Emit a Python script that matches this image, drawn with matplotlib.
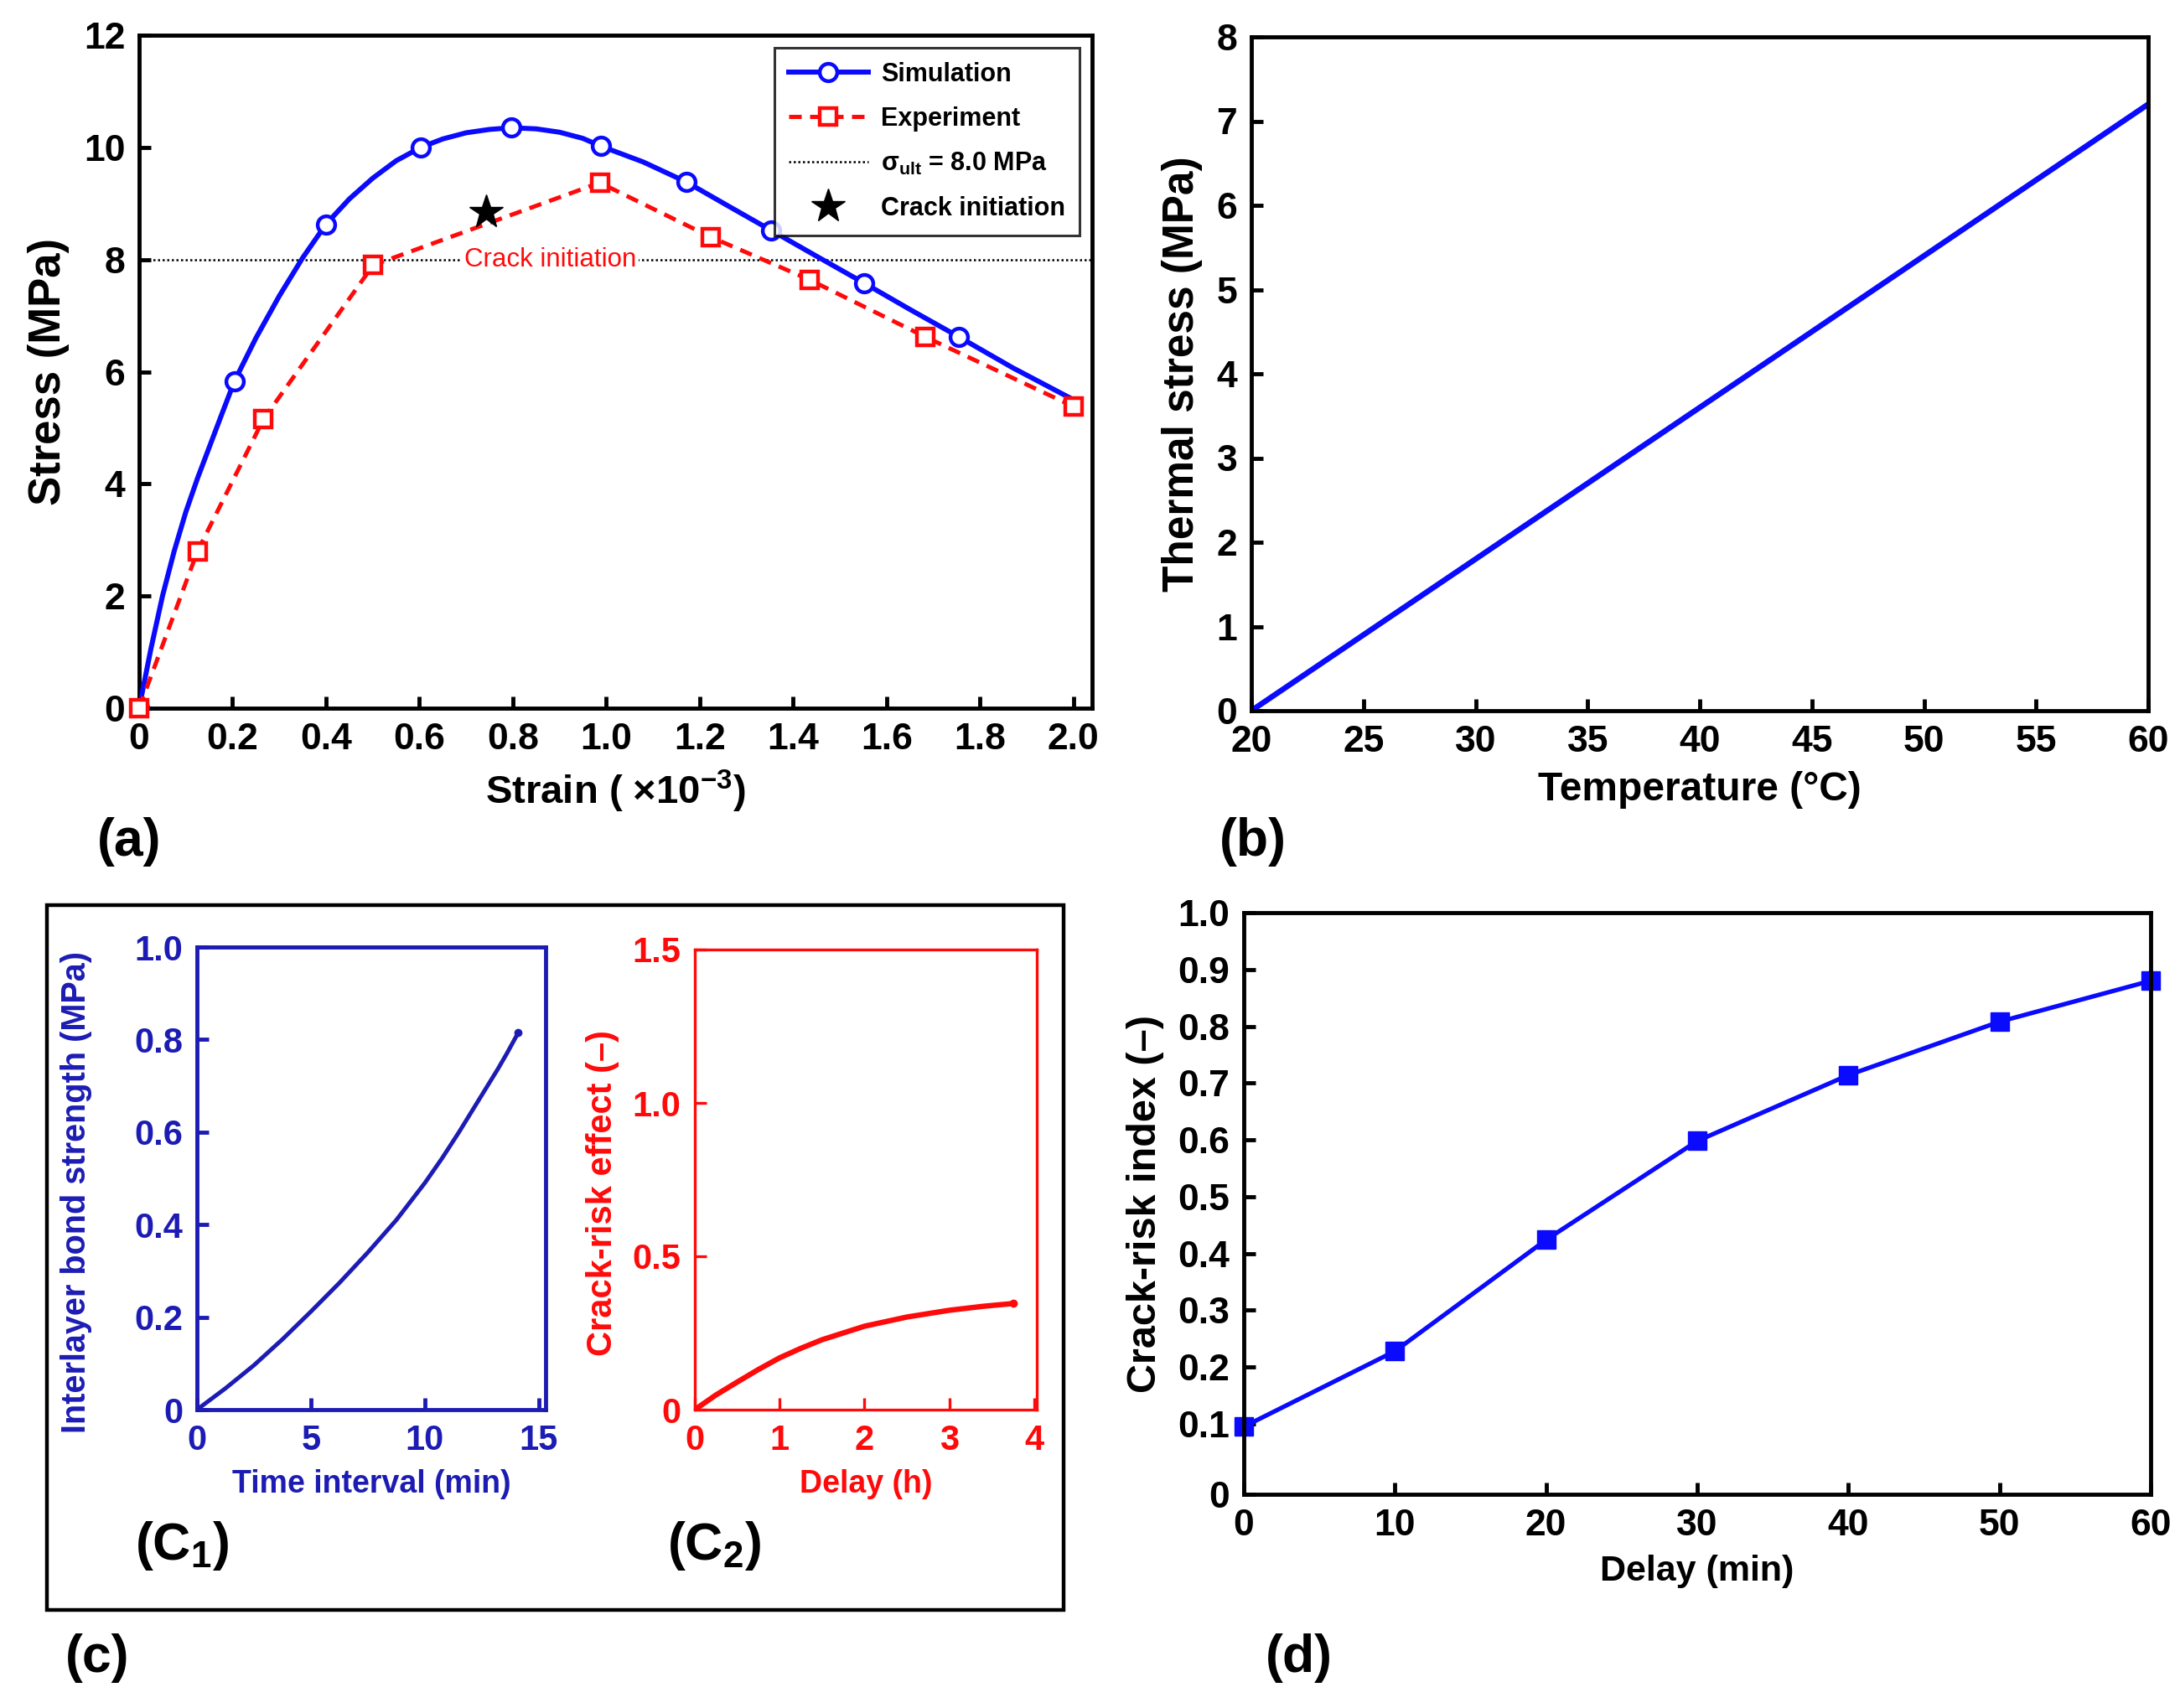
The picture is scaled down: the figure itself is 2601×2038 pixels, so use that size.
import numpy as np
import matplotlib
matplotlib.use('Agg')
from matplotlib import pyplot as plt
from matplotlib.patches import Rectangle

plt.rcParams['font.family'] = ['Liberation Sans', 'DejaVu Sans']
plt.rcParams['font.weight'] = 'bold'
plt.rcParams['axes.labelweight'] = 'bold'
plt.rcParams['mathtext.fontset'] = 'custom'
plt.rcParams['mathtext.rm'] = 'Liberation Sans:bold'
plt.rcParams['mathtext.bf'] = 'Liberation Sans:bold'
plt.rcParams['mathtext.it'] = 'Liberation Sans:bold'

# ---- data ----
# (a) stress-strain
sim_strain = [0, 0.025, 0.05, 0.075, 0.1, 0.125, 0.15, 0.175, 0.204, 0.25, 0.3, 0.35,
              0.4, 0.45, 0.5, 0.55, 0.603, 0.65, 0.7, 0.75, 0.797, 0.85, 0.9, 0.95,
              0.989, 1.079, 1.172, 1.26, 1.353, 1.45, 1.552, 1.65, 1.755, 1.87, 2.0]
sim_stress = [0, 1.05, 2.0, 2.8, 3.5, 4.1, 4.65, 5.2, 5.83, 6.6, 7.35, 8.03,
              8.63, 9.08, 9.45, 9.76, 10.0, 10.15, 10.26, 10.32, 10.35, 10.33, 10.27, 10.16,
              10.02, 9.74, 9.38, 8.96, 8.52, 8.06, 7.58, 7.11, 6.62, 6.07, 5.5]
sim_marks = [0, 8, 12, 16, 20, 24, 26, 28, 30, 32]
exp_strain = [0, 0.125, 0.266, 0.501, 0.986, 1.224, 1.435, 1.683, 2.0]
exp_stress = [0, 2.8, 5.15, 7.9, 9.37, 8.4, 7.64, 6.62, 5.38]
crack_strain = [0.743]
crack_stress = [8.85]
sigma_ult = 8.0

# (b) thermal stress
temperature = [20, 30, 40, 50, 60]
thermal_stress = [0, 1.8, 3.6, 5.4, 7.2]

# (c1) bond strength
time_interval = [0, 1.25, 2.5, 3.75, 5, 6.25, 7.5, 8.75, 10, 10.75, 11.5, 12.15, 12.75, 13.2, 13.6, 14.1]
bond_strength = [0, 0.046, 0.096, 0.152, 0.212, 0.274, 0.34, 0.41, 0.49, 0.543, 0.6, 0.652,
                 0.7, 0.736, 0.77, 0.815]

# (c2) crack-risk effect
delay_h = [0, 0.25, 0.5, 0.75, 1, 1.25, 1.5, 2, 2.5, 3, 3.4, 3.75]
risk_effect = [0, 0.048, 0.09, 0.131, 0.169, 0.2, 0.228, 0.272, 0.302, 0.324, 0.337, 0.346]

# (d) crack-risk index
delay_min = [0, 10, 20, 30, 40, 50, 60]
risk_index = [0.095, 0.228, 0.424, 0.598, 0.714, 0.808, 0.88]

W, H = 2601, 2038
fig = plt.figure(figsize=(W / 100, H / 100), dpi=100)


def box(l, t, r, b):
    return [l / W, 1 - b / H, (r - l) / W, (b - t) / H]


def style(ax, color='black', lw=3.5, size=32):
    for s in ax.spines.values():
        s.set_linewidth(lw)
        s.set_color(color)
    ax.tick_params(direction='in', length=10, width=lw, colors=color,
                   labelsize=size, pad=12, top=False, right=False)
    for lab in ax.get_xticklabels() + ax.get_yticklabels():
        lab.set_fontweight('bold')


blue = '#0a0aff'
red = '#ff0a0a'

# ---------------- (a) ----------------
ax = fig.add_axes(box(166, 42, 1303, 845))
ax.plot(sim_strain, sim_stress, '-', color=blue, lw=4.3, marker='o', markevery=sim_marks,
        ms=15, mfc='white', mec=blue, mew=3.2, label='Simulation', zorder=3)
ax.plot(exp_strain, exp_stress, color=red, lw=3.6, ls=(0, (3, 2)), marker='s', ms=14,
        mfc='white', mec=red, mew=3.2, label='Experiment', zorder=4, clip_on=False)
ax.axhline(sigma_ult, color='black', lw=1.8, ls=(0, (1, 1.2)),
           label='σ$_{\\mathregular{ult}}$ = 8.0 MPa', zorder=2)
ax.plot(crack_strain, crack_stress, ls='none', marker='*', ms=30, color='black',
        label='Crack initiation', zorder=5)
ax.text(0.88, sigma_ult, 'Crack initiation', color=red, fontsize=22.5, fontweight='normal',
        ha='center', va='center', zorder=3,
        bbox=dict(facecolor='white', edgecolor='none', pad=2))
ax.set_xlim(0, 2.04)
ax.set_ylim(0, 12)
ax.set_xticks(np.arange(0, 2.01, 0.2))
ax.set_xticklabels(['0'] + ['%.1f' % v for v in np.arange(0.2, 2.01, 0.2)])
ax.set_yticks(np.arange(0, 13, 2))
style(ax)
ax.set_xlabel('Strain ( ×10$^{\\mathregular{−3}}$)', fontsize=34, labelpad=10)
ax.set_ylabel('Stress (MPa)', fontsize=38, labelpad=12)
leg = ax.legend(loc='upper right', fontsize=22, frameon=True, fancybox=False,
                edgecolor='black', handlelength=3.1, borderpad=0.55, labelspacing=0.75,
                borderaxespad=0.5, handletextpad=0.5)
leg.get_frame().set_linewidth(2.2)

# ---------------- (b) ----------------
ax = fig.add_axes(box(1493, 44, 2563, 848))
ax.plot(temperature, thermal_stress, color=blue, lw=4.8)
ax.set_xlim(20, 60)
ax.set_ylim(0, 8)
ax.set_xticks(np.arange(20, 61, 5))
ax.set_yticks(np.arange(0, 9, 1))
style(ax)
ax.set_xlabel('Temperature (°C)', fontsize=34.5, labelpad=10)
ax.set_ylabel('Thermal stress (MPa)', fontsize=37, labelpad=12)

# ---------------- (c) ----------------
fig.patches.append(Rectangle((56 / W, 1 - 1921 / H), (1269 - 56) / W, (1921 - 1080) / H,
                             transform=fig.transFigure, fill=False, lw=3.2,
                             edgecolor='black'))
navy = '#1c1cb4'
ax = fig.add_axes(box(235, 1130, 651, 1682))
ax.plot(time_interval, bond_strength, color=navy, lw=3.6)
ax.plot(time_interval[-1:], bond_strength[-1:], 'o', color=navy, ms=6)
ax.set_xlim(0, 15.3)
ax.set_ylim(0, 1.0)
ax.set_xticks([0, 5, 10, 15])
ax.set_yticks(np.arange(0, 1.01, 0.2))
ax.set_yticklabels(['0', '0.2', '0.4', '0.6', '0.8', '1.0'])
style(ax, color=navy, lw=3.5, size=30)
ax.set_xlabel('Time interval (min)', fontsize=27, color=navy, labelpad=10)
ax.set_ylabel('Interlayer bond strength (MPa)', fontsize=28.5, color=navy, labelpad=10)
ax.yaxis.set_label_coords(-0.3, 0.47)

ax = fig.add_axes(box(829, 1133, 1237, 1682))
ax.plot(delay_h, risk_effect, color=red, lw=4.6)
ax.plot(delay_h[-1:], risk_effect[-1:], 'o', color=red, ms=6)
ax.set_xlim(0, 4.03)
ax.set_ylim(0, 1.5)
ax.set_xticks([0, 1, 2, 3, 4])
ax.set_yticks([0, 0.5, 1.0, 1.5])
ax.set_yticklabels(['0', '0.5', '1.0', '1.5'])
style(ax, color=red, lw=2.4, size=30)
ax.set_xlabel('Delay (h)', fontsize=27, color=red, labelpad=10)
ax.set_ylabel('Crack-risk effect (–)', fontsize=30, color=red, labelpad=10)
ax.yaxis.set_label_coords(-0.22, 0.47)

# ---------------- (d) ----------------
ax = fig.add_axes(box(1484, 1089, 2566, 1783))
ax.plot(delay_min, risk_index, color=blue, lw=3.8, marker='s', ms=16, clip_on=False)
ax.set_xlim(0, 60)
ax.set_ylim(-0.024, 1.0)
ax.set_xticks(np.arange(0, 61, 10))
ax.set_yticks([-0.024] + list(np.arange(0.1, 1.01, 0.1)))
ax.set_yticklabels(['0'] + ['%.1f' % v for v in np.arange(0.1, 1.01, 0.1)])
style(ax)
ax.set_xlabel('Delay (min)', fontsize=31, labelpad=10)
ax.set_ylabel('Crack-risk index (–)', fontsize=35, labelpad=12)

# ---------------- panel tags ----------------
tags = [('(a)', 116, 1004), ('(b)', 1455, 1004), ('(c)', 78, 1979), ('(d)', 1510, 1979),
        ('(C$\\mathregular{_1}$)', 161, 1845), ('(C$\\mathregular{_2}$)', 796, 1845)]
for txt, x, y in tags:
    fig.text(x / W, 1 - y / H, txt, fontsize=45, fontweight='bold', ha='left', va='center')

fig.savefig('out.png', dpi=100, facecolor='white')
